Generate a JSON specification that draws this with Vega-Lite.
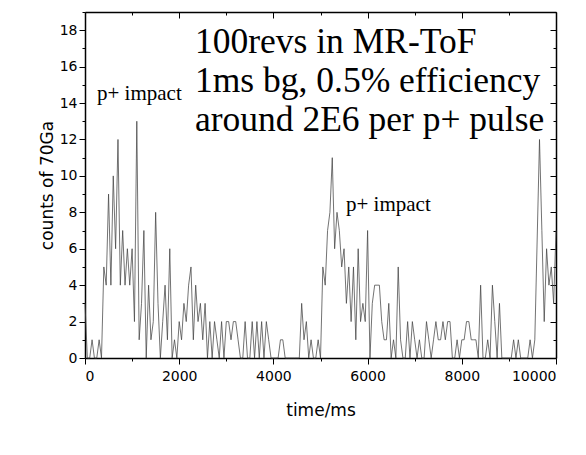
{
  "$schema": "https://vega.github.io/schema/vega-lite/v6.json",
  "width": 471,
  "height": 346,
  "autosize": {"type": "none"},
  "padding": {"left": 85, "top": 12, "right": 30, "bottom": 97},
  "background": "white",
  "config": {"view": {"stroke": null}},
  "datasets": {
    "counts": [
      {"t":0,"c":3},{"t":50,"c":0},{"t":100,"c":0},{"t":150,"c":1},{"t":200,"c":0},{"t":250,"c":0},{"t":300,"c":1},{"t":350,"c":0},{"t":400,"c":5},{"t":450,"c":4},
      {"t":500,"c":9},{"t":550,"c":4},{"t":600,"c":10},{"t":650,"c":6},{"t":700,"c":12},{"t":750,"c":4},{"t":800,"c":7},{"t":850,"c":4},{"t":900,"c":6},{"t":950,"c":4},
      {"t":1000,"c":6},{"t":1050,"c":2},{"t":1100,"c":13},{"t":1150,"c":1},{"t":1200,"c":3},{"t":1250,"c":7},{"t":1300,"c":0},{"t":1350,"c":4},{"t":1400,"c":1},{"t":1450,"c":2},
      {"t":1500,"c":8},{"t":1550,"c":3},{"t":1600,"c":0},{"t":1650,"c":2},{"t":1700,"c":4},{"t":1750,"c":1},{"t":1800,"c":6},{"t":1850,"c":0},{"t":1900,"c":1},{"t":1950,"c":0},
      {"t":2000,"c":2},{"t":2050,"c":1},{"t":2100,"c":3},{"t":2150,"c":2},{"t":2200,"c":4},{"t":2250,"c":5},{"t":2300,"c":1},{"t":2350,"c":4},{"t":2400,"c":2},{"t":2450,"c":3},
      {"t":2500,"c":1},{"t":2550,"c":3},{"t":2600,"c":0},{"t":2650,"c":2},{"t":2700,"c":0},{"t":2750,"c":2},{"t":2800,"c":1},{"t":2850,"c":0},{"t":2900,"c":2},{"t":2950,"c":0},
      {"t":3000,"c":2},{"t":3050,"c":2},{"t":3100,"c":1},{"t":3150,"c":2},{"t":3200,"c":2},{"t":3250,"c":1},{"t":3300,"c":0},{"t":3350,"c":0},{"t":3400,"c":2},{"t":3450,"c":0},
      {"t":3500,"c":0},{"t":3550,"c":2},{"t":3600,"c":0},{"t":3650,"c":2},{"t":3700,"c":0},{"t":3750,"c":2},{"t":3800,"c":0},{"t":3850,"c":2},{"t":3900,"c":1},{"t":3950,"c":0},
      {"t":4000,"c":0},{"t":4050,"c":0},{"t":4100,"c":0},{"t":4150,"c":1},{"t":4200,"c":1},{"t":4250,"c":0},{"t":4300,"c":0},{"t":4350,"c":0},{"t":4400,"c":0},{"t":4450,"c":0},
      {"t":4500,"c":0},{"t":4550,"c":0},{"t":4600,"c":3},{"t":4650,"c":1},{"t":4700,"c":2},{"t":4750,"c":0},{"t":4800,"c":1},{"t":4850,"c":0},{"t":4900,"c":0},{"t":4950,"c":1},
      {"t":5000,"c":0},{"t":5050,"c":5},{"t":5100,"c":4},{"t":5150,"c":7},{"t":5200,"c":8},{"t":5250,"c":11},{"t":5300,"c":6},{"t":5350,"c":8},{"t":5400,"c":7},{"t":5450,"c":5},
      {"t":5500,"c":6},{"t":5550,"c":3},{"t":5600,"c":5},{"t":5650,"c":2},{"t":5700,"c":5},{"t":5750,"c":1},{"t":5800,"c":6},{"t":5850,"c":2},{"t":5900,"c":3},{"t":5950,"c":2},
      {"t":6000,"c":7},{"t":6050,"c":0},{"t":6100,"c":3},{"t":6150,"c":4},{"t":6200,"c":4},{"t":6250,"c":4},{"t":6300,"c":2},{"t":6350,"c":1},{"t":6400,"c":1},{"t":6450,"c":3},
      {"t":6500,"c":0},{"t":6550,"c":1},{"t":6600,"c":0},{"t":6650,"c":5},{"t":6700,"c":1},{"t":6750,"c":0},{"t":6800,"c":0},{"t":6850,"c":2},{"t":6900,"c":0},{"t":6950,"c":2},
      {"t":7000,"c":1},{"t":7050,"c":0},{"t":7100,"c":1},{"t":7150,"c":0},{"t":7200,"c":0},{"t":7250,"c":2},{"t":7300,"c":1},{"t":7350,"c":0},{"t":7400,"c":1},{"t":7450,"c":2},
      {"t":7500,"c":1},{"t":7550,"c":1},{"t":7600,"c":2},{"t":7650,"c":1},{"t":7700,"c":2},{"t":7750,"c":2},{"t":7800,"c":0},{"t":7850,"c":0},{"t":7900,"c":1},{"t":7950,"c":0},
      {"t":8000,"c":1},{"t":8050,"c":1},{"t":8100,"c":2},{"t":8150,"c":2},{"t":8200,"c":1},{"t":8250,"c":1},{"t":8300,"c":1},{"t":8350,"c":0},{"t":8400,"c":4},{"t":8450,"c":0},
      {"t":8500,"c":0},{"t":8550,"c":1},{"t":8600,"c":0},{"t":8650,"c":4},{"t":8700,"c":2},{"t":8750,"c":0},{"t":8800,"c":3},{"t":8850,"c":0},{"t":8900,"c":0},{"t":8950,"c":0},
      {"t":9000,"c":0},{"t":9050,"c":0},{"t":9100,"c":1},{"t":9150,"c":0},{"t":9200,"c":1},{"t":9250,"c":0},{"t":9300,"c":0},{"t":9350,"c":0},{"t":9400,"c":0},{"t":9450,"c":1},
      {"t":9500,"c":0},{"t":9550,"c":1},{"t":9650,"c":12},{"t":9700,"c":7},{"t":9750,"c":2},{"t":9800,"c":6},{"t":9850,"c":4},{"t":9900,"c":5},{"t":9950,"c":3},{"t":10000,"c":7}
    ],
    "bigText": [
      {"t":2335,"v":16.75,"label":"100revs in MR-ToF"},
      {"t":2335,"v":14.6,"label":"1ms bg, 0.5% efficiency"},
      {"t":2335,"v":12.45,"label":"around 2E6 per p+ pulse"}
    ],
    "smallText": [
      {"t":255,"v":14.15,"label":"p+ impact"},
      {"t":5541,"v":8.05,"label":"p+ impact"}
    ]
  },
  "layer": [
    {
      "data": {"name": "counts"},
      "mark": {"type": "line", "color": "#444444", "strokeWidth": 0.75},
      "encoding": {
        "x": {
          "field": "t", "type": "quantitative",
          "scale": {"domain": [0, 10000], "nice": false, "zero": false},
          "axis": {
            "orient": "bottom", "title": "time/ms", "grid": false,
            "values": [0,1000,2000,3000,4000,5000,6000,7000,8000,9000,10000],
            "labelExpr": "datum.value % 2000 === 0 ? format(datum.value, 'd') : ''",
            "tickSize": {"condition": {"test": "datum.value % 2000 === 0", "value": 6}, "value": 3},
            "domainColor": "black", "tickColor": "black", "domainWidth": 1.5, "tickWidth": 1,
            "labelFont": "DejaVu Sans", "labelFontSize": 14, "labelColor": "black", "labelPadding": 5,
            "titleFont": "DejaVu Sans", "titleFontSize": 17, "titleFontWeight": "normal", "titleColor": "black", "titlePadding": 19
          }
        },
        "y": {
          "field": "c", "type": "quantitative",
          "scale": {"domain": [0, 19], "nice": false},
          "axis": {
            "orient": "left", "title": "counts of 70Ga", "grid": false,
            "values": [0,1,2,3,4,5,6,7,8,9,10,11,12,13,14,15,16,17,18,19],
            "labelExpr": "datum.value % 2 === 0 ? format(datum.value, 'd') : ''",
            "tickSize": {"condition": {"test": "datum.value % 2 === 0", "value": 6}, "value": 3},
            "domainColor": "black", "tickColor": "black", "domainWidth": 1.5, "tickWidth": 1,
            "labelFont": "DejaVu Sans", "labelFontSize": 14, "labelColor": "black", "labelPadding": 2,
            "titleFont": "DejaVu Sans", "titleFontSize": 17, "titleFontWeight": "normal", "titleColor": "black", "titlePadding": 3
          }
        }
      }
    },
    {
      "data": {"name": "counts"},
      "mark": {"type": "line", "opacity": 0},
      "encoding": {
        "x": {
          "field": "t", "type": "quantitative",
          "axis": {
            "orient": "top", "title": null, "labels": false, "grid": false,
            "values": [0,1000,2000,3000,4000,5000,6000,7000,8000,9000,10000],
            "tickSize": {"condition": {"test": "datum.value % 2000 === 0", "value": -6}, "value": -3},
            "domainColor": "black", "tickColor": "black", "domainWidth": 1.5
          }
        },
        "y": {
          "field": "c", "type": "quantitative",
          "axis": {
            "orient": "right", "title": null, "labels": false, "grid": false,
            "values": [0,1,2,3,4,5,6,7,8,9,10,11,12,13,14,15,16,17,18,19],
            "tickSize": {"condition": {"test": "datum.value % 2 === 0", "value": -6}, "value": -3},
            "domainColor": "black", "tickColor": "black", "domainWidth": 1.5
          }
        }
      }
    },
    {
      "data": {"name": "bigText"},
      "mark": {"type": "text", "align": "left", "baseline": "alphabetic", "font": "Liberation Serif", "fontSize": 35.5, "color": "black"},
      "encoding": {
        "x": {"field": "t", "type": "quantitative", "axis": null},
        "y": {"field": "v", "type": "quantitative", "axis": null},
        "text": {"field": "label"}
      }
    },
    {
      "data": {"name": "smallText"},
      "mark": {"type": "text", "align": "left", "baseline": "alphabetic", "font": "Liberation Serif", "fontSize": 21, "color": "black"},
      "encoding": {
        "x": {"field": "t", "type": "quantitative", "axis": null},
        "y": {"field": "v", "type": "quantitative", "axis": null},
        "text": {"field": "label"}
      }
    }
  ],
  "resolve": {"axis": {"x": "independent", "y": "independent"}}
}
